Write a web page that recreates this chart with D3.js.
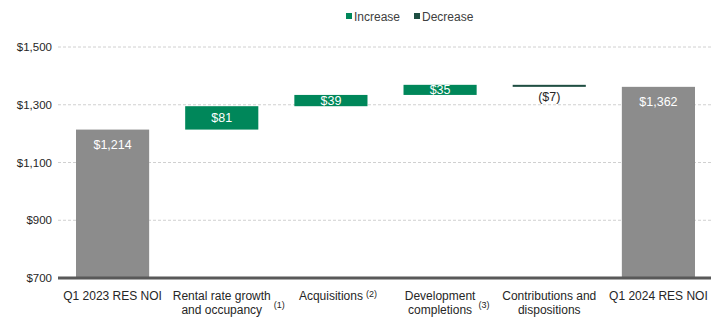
<!DOCTYPE html>
<html>
<head>
<meta charset="utf-8">
<script src="https://cdn.jsdelivr.net/npm/d3@7"></script>
<style>
  body { margin: 0; background: #fff; }
  svg { display: block; font-family: "Liberation Sans", Arial, sans-serif; }
</style>
</head>
<body>
<svg id="chart" width="711" height="323"></svg>
<script>
// bridge steps, left to right
const categories = ["start", "rental", "acq", "dev", "contrib", "end"];
const labelLines = [
    ["Q1 2023 RES NOI"],
    ["Rental rate growth", "and occupancy"],
    ["Acquisitions"],
    ["Development", "completions"],
    ["Contributions and", "dispositions"],
    ["Q1 2024 RES NOI"]
];
const footnotes = ["", "(1)", "(2)", "(3)", "", ""];
const stepValues = [1214, 81, 39, 35, -7, 1362];
const stepKinds = ["total", "change", "change", "change", "change", "total"];
const yTicks = [700, 900, 1100, 1300, 1500];

const colors = { total: "#8c8c8c", increase: "#00875a", decrease: "#1f4e42" };

const svg = d3.select("#chart");
const W = +svg.attr("width");

const x = d3.scaleBand(categories, [58, 713]).paddingInner(0.33).paddingOuter(0.165);
const y = d3.scaleLinear([700, 1500], [278, 47]);

// running totals for the floating bars
let running = 0;
const bars = stepValues.map((v, i) => {
    let lo, hi, kind;
    if (stepKinds[i] === "total") {
        lo = 700; hi = v; running = v; kind = "total";
    } else {
        const from = running;
        running += v;
        lo = Math.min(from, running); hi = Math.max(from, running);
        kind = v >= 0 ? "increase" : "decrease";
    }
    return { key: categories[i], value: v, lo, hi, kind };
});

// gridlines
svg.append("g").selectAll("line")
    .data(yTicks.slice(1))
    .join("line")
    .attr("x1", 58).attr("x2", W)
    .attr("y1", d => y(d)).attr("y2", d => y(d))
    .attr("stroke", "#d0d0d0")
    .attr("stroke-dasharray", "3,2");

// y axis labels
const yAxis = d3.axisLeft(y).tickValues(yTicks).tickSize(0).tickPadding(0)
    .tickFormat(d => "$" + d3.format(",")(d));
svg.append("g")
    .attr("transform", "translate(52,0)")
    .call(yAxis)
    .call(g => g.select(".domain").remove())
    .call(g => g.selectAll("text")
        .attr("fill", "#262626")
        .style("font-size", "11.5px")
        .style("font-family", "Liberation Sans, Arial, sans-serif"));

// bars
svg.append("g").selectAll("rect")
    .data(bars)
    .join("rect")
    .attr("x", d => x(d.key))
    .attr("width", x.bandwidth())
    .attr("y", d => y(d.hi))
    .attr("height", d => Math.max(2, y(d.lo) - y(d.hi)))
    .attr("fill", d => colors[d.kind]);

// value labels
const money = v => v < 0 ? `($${d3.format(",")(-v)})` : `$${d3.format(",")(v)}`;
svg.append("g").selectAll("text")
    .data(bars)
    .join("text")
    .attr("x", d => x(d.key) + x.bandwidth() / 2)
    .attr("y", d => {
        if (d.kind === "total") return y(d.hi) + 19;
        if (d.kind === "decrease") return y(d.lo) + 14;
        return (y(d.hi) + y(d.lo)) / 2 + 4.5;
    })
    .attr("text-anchor", "middle")
    .attr("fill", d => d.kind === "decrease" ? "#262626" : "#fff")
    .style("font-size", "12.5px")
    .text(d => money(d.value));

// baseline
svg.append("line")
    .attr("x1", 58).attr("x2", W)
    .attr("y1", y(700)).attr("y2", y(700))
    .attr("stroke", "#595959")
    .attr("stroke-width", 3);

// category labels, footnote mark placed right of the widest line
svg.append("g").selectAll("text")
    .data(categories)
    .join("text")
    .attr("x", d => x(d) + x.bandwidth() / 2)
    .attr("y", 300)
    .attr("text-anchor", "middle")
    .attr("fill", "#262626")
    .style("font-size", "12px")
    .each(function (d, i) {
        const t = d3.select(this);
        const cx = x(d) + x.bandwidth() / 2;
        let widest = 0;
        labelLines[i].forEach((line, j) => {
            const ts = t.append("tspan")
                .attr("x", cx)
                .attr("dy", j === 0 ? 0 : 14)
                .text(line);
            widest = Math.max(widest, ts.node().getComputedTextLength());
        });
        if (footnotes[i]) {
            d3.select(this.parentNode).append("text")
                .attr("x", cx + widest / 2 + 3)
                .attr("y", labelLines[i].length > 1 ? 308 : 297)
                .attr("fill", "#262626")
                .style("font-size", "9px")
                .text(footnotes[i]);
        }
    });

// legend
const legendItems = [["Increase", colors.increase, 346], ["Decrease", colors.decrease, 414]];
const lg = svg.append("g").selectAll("g")
    .data(legendItems)
    .join("g")
    .attr("transform", d => `translate(${d[2]},12)`);
lg.append("rect").attr("width", 6).attr("height", 6).attr("y", 1).attr("fill", d => d[1]);
lg.append("text")
    .attr("x", 8).attr("y", 8.5)
    .attr("fill", "#404040")
    .style("font-size", "12px")
    .text(d => d[0]);
</script>
</body>
</html>
